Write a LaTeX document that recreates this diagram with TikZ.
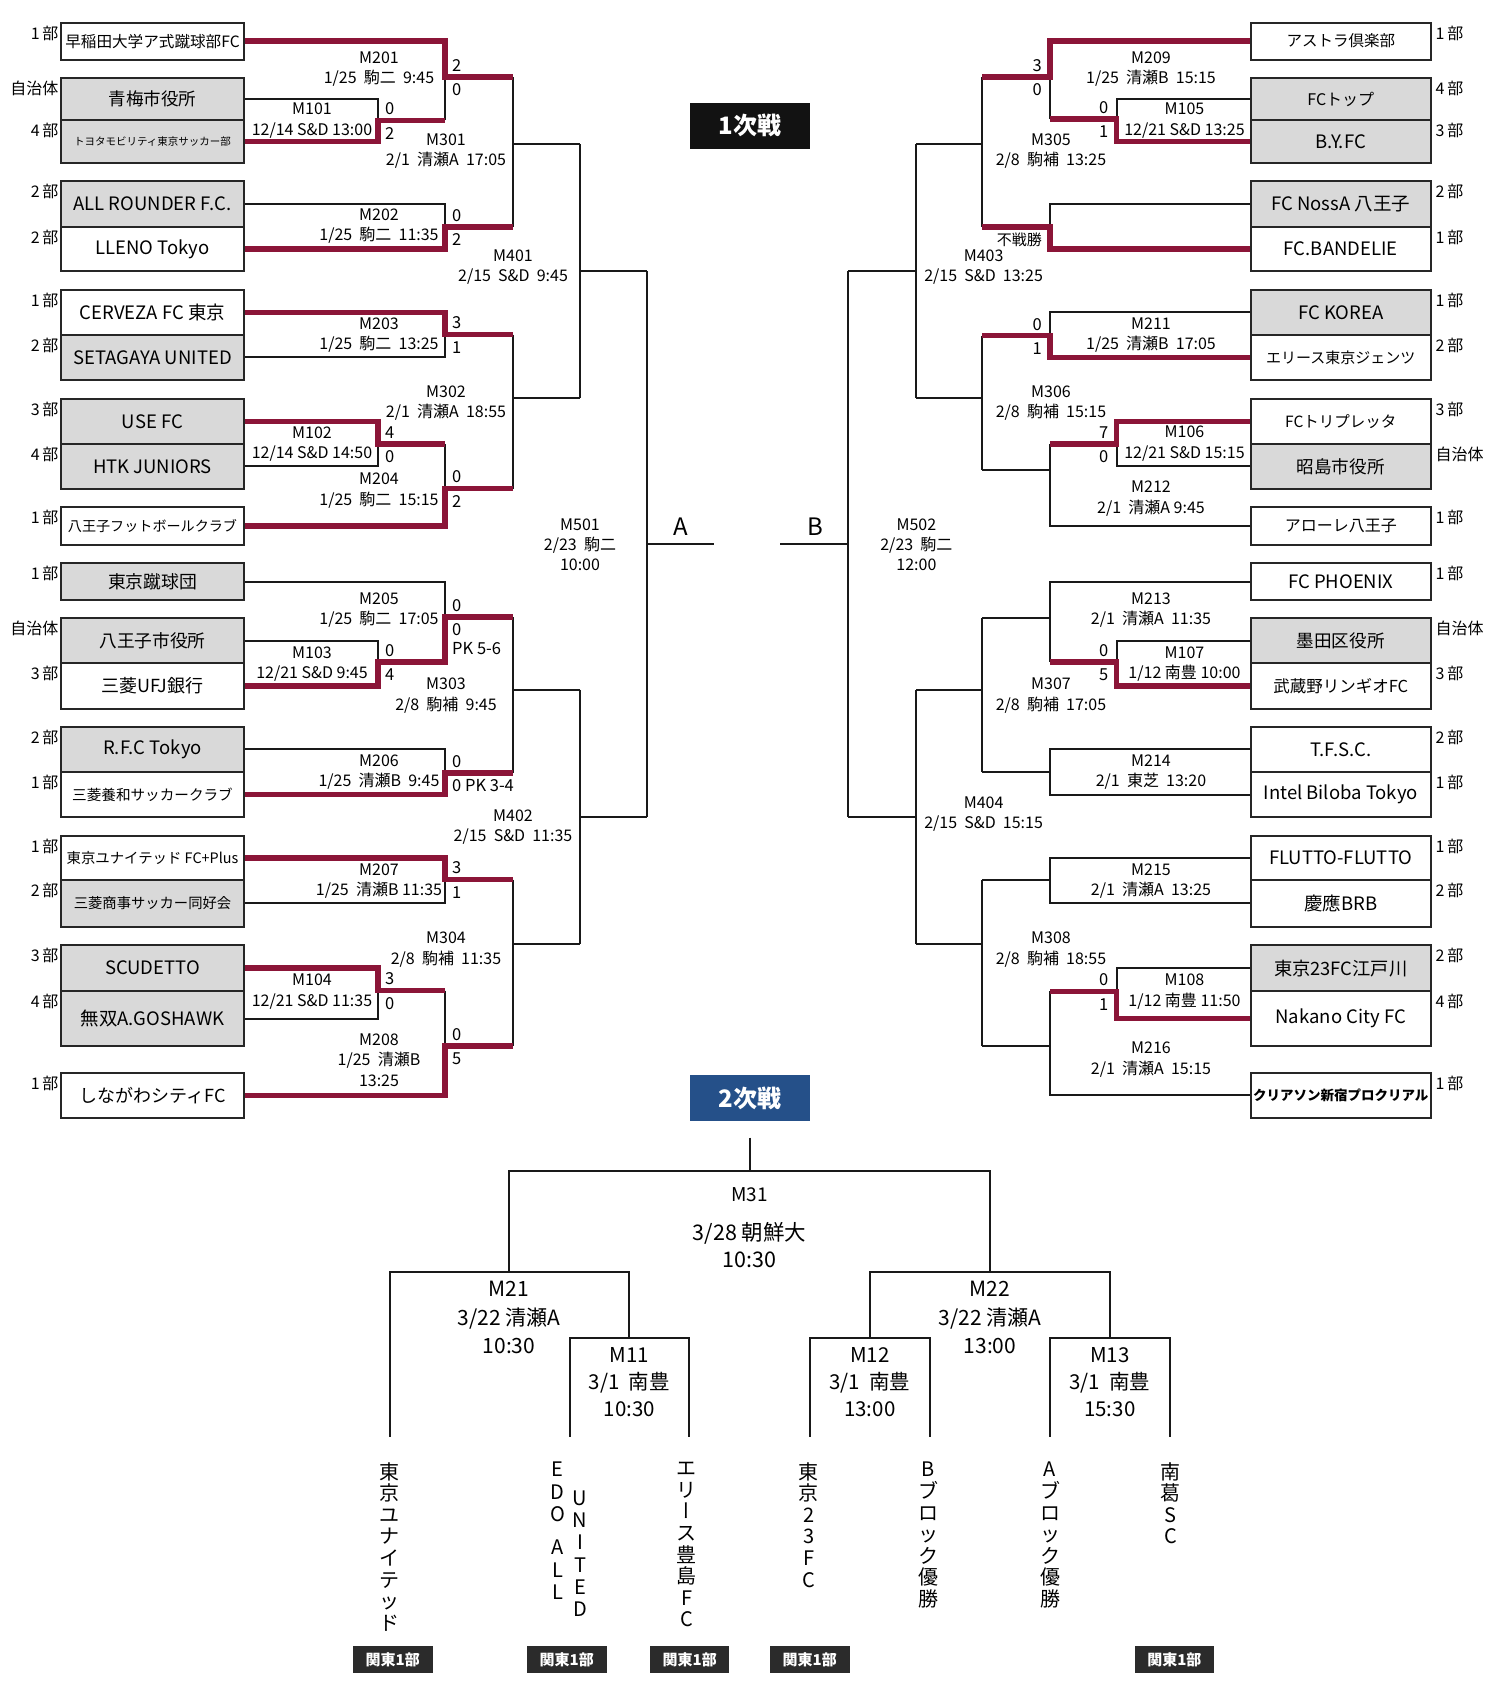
\documentclass[tikz,border=0pt]{standalone}
\usepackage{fontspec}
\setmainfont{Noto Sans CJK JP}
\newfontfamily\vjp[RawFeature=+vert]{Noto Sans CJK JP}

\definecolor{winred}{RGB}{139,21,56}
\definecolor{boxgray}{RGB}{217,217,217}
\definecolor{headblue}{RGB}{37,80,137}
\definecolor{tagblack}{RGB}{43,43,43}

\tikzset{
  brk/.style={draw=black!90, line width=2pt},
  win/.style={draw=winred, line width=5.5pt},
  team/.style={draw=black!85, line width=2pt, inner sep=0pt},
  lvl/.style={font=\fontsize{16}{16}\selectfont, inner sep=0pt},
  mlab/.style={font=\fontsize{16}{20.3}\selectfont, align=center, inner sep=0pt},
  sc/.style={font=\fontsize{16.5}{16.5}\selectfont, inner sep=0pt},
  head/.style={minimum width=120, minimum height=46, text=white, inner sep=0pt,
    font=\fontsize{24}{24}\selectfont\bfseries},
  tag/.style={fill=tagblack, text=white, minimum width=79.5, minimum height=27.3,
    inner sep=0pt, font=\fontsize{15}{15}\selectfont\bfseries},
  big/.style={font=\fontsize{21}{28.3}\selectfont, align=center, inner sep=0pt},
  tate/.style={font=\fontsize{20}{21.6}\selectfont, align=center, inner sep=0pt, anchor=north}
}

\begin{document}
\begin{tikzpicture}[x=1pt, y=-1pt]
  \useasboundingbox (0,0) rectangle (1500,1698);

  % teams, block A
  \foreach \row/\yc/\bh/\fs/\bg/\tn/\dv in {
    1/41.05/37.1/15.6/white/早稲田大学ア式蹴球部FC/1\,部,
    2/99.15/42.3/17.5/boxgray/青梅市役所/自治体,
    3/141.4/42.2/10.5/boxgray/トヨタモビリティ東京サッカー部/4\,部,
    4/204.1/45.4/18.5/boxgray/ALL ROUNDER F.C./2\,部,
    5/249.1/44.6/18.5/white/LLENO Tokyo/2\,部,
    6/312.3/44.6/18.5/white/CERVEZA FC 東京/1\,部,
    7/357.3/45.4/18.5/boxgray/SETAGAYA UNITED/2\,部,
    8/421.5/45/18.5/boxgray/USE FC/3\,部,
    9/466.3/44.6/18.5/boxgray/HTK JUNIORS/4\,部,
    10/525.8/37.6/14.1/white/八王子フットボールクラブ/1\,部,
    11/581.5/37/17.8/boxgray/東京蹴球団/1\,部,
    12/640.8/44.8/17.7/boxgray/八王子市役所/自治体,
    13/686.1/45.8/18/white/三菱UFJ銀行/3\,部,
    14/749.4/45.2/18.5/boxgray/R.F.C Tokyo/2\,部,
    15/794.7/45.4/14.6/white/三菱養和サッカークラブ/1\,部,
    16/858.15/44.3/14.4/white/東京ユナイテッド FC+Plus/1\,部,
    17/903.4/46.2/14.3/boxgray/三菱商事サッカー同好会/2\,部,
    18/968.15/46.3/18.5/boxgray/SCUDETTO/3\,部,
    19/1018.65/54.7/18.5/boxgray/無双A.GOSHAWK/4\,部,
    20/1095.25/45.1/18/white/しながわシティFC/1\,部}{
    \node[team, fill=\bg, minimum width=183, minimum height=\bh,
      font=\fontsize{\fs}{\fs}\selectfont] (L\row) at (152.5,\yc) {\tn};
    \node[lvl, anchor=east] (dl\row) at ([shift={(-1.5,11.5)}]L\row.north west) {\dv};
  }

  % teams, block B
  \foreach \row/\yc/\bh/\fs/\bg/\tn/\dv in {
    1/41.05/37.1/15.5/white/アストラ倶楽部/1\,部,
    2/99.15/42.3/16/boxgray/FCトップ/4\,部,
    3/141.4/42.2/18.5/boxgray/B.Y.FC/3\,部,
    4/204.1/45.4/18.5/boxgray/FC NossA 八王子/2\,部,
    5/249.1/44.6/18.5/white/FC.BANDELIE/1\,部,
    6/312.3/44.6/18.5/boxgray/FC KOREA/1\,部,
    7/357.3/45.4/15/white/エリース東京ジェンツ/2\,部,
    8/421.5/45/15.5/white/FCトリプレッタ/3\,部,
    9/466.3/44.6/17.6/boxgray/昭島市役所/自治体,
    10/525.8/37.6/16/white/アローレ八王子/1\,部,
    11/581.5/37/18.5/white/FC PHOENIX/1\,部,
    12/640.8/44.8/17.6/boxgray/墨田区役所/自治体,
    13/686.1/45.8/16.5/white/武蔵野リンギオFC/3\,部,
    14/749.4/45.2/18.5/white/T.F.S.C./2\,部,
    15/794.7/45.4/18.5/white/Intel Biloba Tokyo/1\,部,
    16/858.15/44.3/18.5/white/FLUTTO-FLUTTO/1\,部,
    17/903.4/46.2/18.5/white/慶應BRB/2\,部,
    18/968.15/46.3/18.3/boxgray/東京23FC江戸川/2\,部,
    19/1018.65/54.7/18.5/white/Nakano City FC/4\,部,
    20/1095.25/45.1/13.5/white/{\bfseries クリアソン新宿プロクリアル}/1\,部}{
    \node[team, fill=\bg, minimum width=179.5, minimum height=\bh,
      font=\fontsize{\fs}{\fs}\selectfont] (R\row) at (1340.75,\yc) {\tn};
    \node[lvl, anchor=west] (dr\row) at ([shift={(4,11.5)}]R\row.north east) {\dv};
  }

  % junctions
  \coordinate (m101) at (378,120.3);
  \coordinate (m102) at (378,444);
  \coordinate (m103) at (378,662);
  \coordinate (m104) at (378,990.5);
  \coordinate (m201) at (445,77);
  \coordinate (m202) at (445,227);
  \coordinate (m203) at (445,334.6);
  \coordinate (m204) at (445,488.6);
  \coordinate (m205) at (445,617);
  \coordinate (m206) at (445,773);
  \coordinate (m207) at (445,879.6);
  \coordinate (m208) at (445,1046);
  \coordinate (m301) at (513,144);
  \coordinate (m302) at (513,398.2);
  \coordinate (m303) at (513,689.8);
  \coordinate (m304) at (513,944.3);
  \coordinate (m401) at (580,271.2);
  \coordinate (m402) at (580,817.2);
  \coordinate (m501) at (647,543.8);
  \coordinate (aend) at (714.3,543.8);

  \coordinate (m105) at (1116.5,119);
  \coordinate (m106) at (1116.5,444);
  \coordinate (m107) at (1116.5,662);
  \coordinate (m108) at (1116.5,991.3);
  \coordinate (m209) at (1050,77);
  \coordinate (m210) at (1050,227);
  \coordinate (m211) at (1050,335.7);
  \coordinate (m212) at (1050,469.6);
  \coordinate (m213) at (1050,618.4);
  \coordinate (m214) at (1050,772.3);
  \coordinate (m215) at (1050,880.3);
  \coordinate (m216) at (1050,1046);
  \coordinate (m305) at (982,144);
  \coordinate (m306) at (982,398.2);
  \coordinate (m307) at (982,689.8);
  \coordinate (m308) at (982,944.3);
  \coordinate (m403) at (915.6,271.2);
  \coordinate (m404) at (915.6,816.7);
  \coordinate (m502) at (848.3,543.8);
  \coordinate (bend) at (780,543.8);

  % block A lines
  \draw[brk] (L2.east) -| (m101);
  \draw[brk] (m101 -| m201) -- (m201);
  \draw[brk] (L4.east) -| (m202);
  \draw[brk] (L7.east) -| (m203);
  \draw[brk] (L9.east) -| (m102);
  \draw[brk] (m102 -| m204) -- (m204);
  \draw[brk] (L12.east) -| (m103);
  \draw[brk] (L11.east) -| (m205);
  \draw[brk] (L14.east) -| (m206);
  \draw[brk] (L17.east) -| (m207);
  \draw[brk] (L19.east) -| (m104);
  \draw[brk] (m104 -| m208) -- (m208);
  \draw[brk] (m201 -| m301) -- (m202 -| m301) (m301) -- (m301 -| m401);
  \draw[brk] (m203 -| m302) -- (m204 -| m302) (m302) -- (m302 -| m401);
  \draw[brk] (m205 -| m303) -- (m206 -| m303) (m303) -- (m303 -| m402);
  \draw[brk] (m207 -| m304) -- (m208 -| m304) (m304) -- (m304 -| m402);
  \draw[brk] (m301 -| m401) -- (m302 -| m401) (m401) -- (m401 -| m501);
  \draw[brk] (m303 -| m402) -- (m304 -| m402) (m402) -- (m402 -| m501);
  \draw[brk] (m401 -| m501) -- (m402 -| m501) (m501) -- (aend);

  \draw[win] (L3.east) -| (m101) -- (m101 -| m201);
  \draw[win] (L1.east) -| (m201) -- (m201 -| m301);
  \draw[win] (L5.east) -| (m202) -- (m202 -| m301);
  \draw[win] (L6.east) -| (m203) -- (m203 -| m302);
  \draw[win] (L8.east) -| (m102) -- (m102 -| m204);
  \draw[win] (L10.east) -| (m204) -- (m204 -| m302);
  \draw[win] (L13.east) -| (m103) -- (m103 -| m205) -- (m205) -- (m205 -| m303);
  \draw[win] (L15.east) -| (m206) -- (m206 -| m303);
  \draw[win] (L16.east) -| (m207) -- (m207 -| m304);
  \draw[win] (L18.east) -| (m104) -- (m104 -| m208);
  \draw[win] (L20.east) -| (m208) -- (m208 -| m304);

  % block B lines
  \draw[brk] (R2.west) -| (m105);
  \draw[brk] (m105 -| m209) -- (m209);
  \draw[brk] (R4.west) -| (m210);
  \draw[brk] (R6.west) -| (m211);
  \draw[brk] (R9.west) -| (m106);
  \draw[brk] (R10.west) -| (m212) -- (m106 -| m212) (m212) -- (m212 -| m306);
  \draw[brk] (R12.west) -| (m107);
  \draw[brk] (R11.west) -| (m213) -- (m107 -| m213) (m213) -- (m213 -| m307);
  \draw[brk] (R14.west) -| (m214) (R15.west) -| (m214) (m214) -- (m214 -| m307);
  \draw[brk] (R16.west) -| (m215) (R17.west) -| (m215) (m215) -- (m215 -| m308);
  \draw[brk] (R18.west) -| (m108);
  \draw[brk] (R20.west) -| (m216) -- (m108 -| m216) (m216) -- (m216 -| m308);
  \draw[brk] (m209 -| m305) -- (m210 -| m305) (m305) -- (m305 -| m403);
  \draw[brk] (m211 -| m306) -- (m212 -| m306) (m306) -- (m306 -| m403);
  \draw[brk] (m213 -| m307) -- (m214 -| m307) (m307) -- (m307 -| m404);
  \draw[brk] (m215 -| m308) -- (m216 -| m308) (m308) -- (m308 -| m404);
  \draw[brk] (m305 -| m403) -- (m306 -| m403) (m403) -- (m403 -| m502);
  \draw[brk] (m307 -| m404) -- (m308 -| m404) (m404) -- (m404 -| m502);
  \draw[brk] (m403 -| m502) -- (m404 -| m502) (m502) -- (bend);

  \draw[win] (R3.west) -| (m105) -- (m105 -| m209);
  \draw[win] (R1.west) -| (m209) -- (m209 -| m305);
  \draw[win] (R5.west) -| (m210) -- (m210 -| m305);
  \draw[win] (R7.west) -| (m211) -- (m211 -| m306);
  \draw[win] (R8.west) -| (m106) -- (m106 -| m212);
  \draw[win] (R13.west) -| (m107) -- (m107 -| m213);
  \draw[win] (R19.west) -| (m108) -- (m108 -| m216);

  % scores
  \foreach \m/\sa/\sb in {m101/0/2, m102/4/0, m103/0/4, m104/3/0,
    m201/2/0, m202/0/2, m203/3/1, m204/0/2, m205/0/0, m206/0/0 PK 3-4,
    m207/3/1, m208/0/5}{
    \node[sc, anchor=west] (\m-a) at ([shift={(7,-11.5)}]\m) {\sa};
    \node[sc, anchor=west] (\m-b) at ([shift={(7,13)}]\m) {\sb};
  }
  \node[sc, anchor=west] (pk205) at ([shift={(7,32)}]m205) {PK 5-6};
  \foreach \m/\sa/\sb in {m105/0/1, m106/7/0, m107/0/5, m108/0/1,
    m209/3/0, m211/0/1}{
    \node[sc, anchor=east] (\m-a) at ([shift={(-8,-11.5)}]\m) {\sa};
    \node[sc, anchor=east] (\m-b) at ([shift={(-8,13)}]\m) {\sb};
  }
  \node[sc, font=\fontsize{15}{15}\selectfont, anchor=east] (fsh) at ([shift={(-8,13)}]m210) {不戦勝};

  % match labels, block A
  \node[mlab] (t201) at (379,69.2) {M201\\1/25~~駒二~~9:45};
  \node[mlab] (t101) at (312,120.5) {M101\\12/14 S\&D 13:00};
  \node[mlab] (t301) at (446,150.9) {M301\\2/1~~清瀬A~~17:05};
  \node[mlab] (t202) at (379,226.2) {M202\\1/25~~駒二~~11:35};
  \node[mlab] (t401) at (513,267.3) {M401\\2/15~~S\&D~~9:45};
  \node[mlab] (t203) at (379,335.2) {M203\\1/25~~駒二~~13:25};
  \node[mlab] (t302) at (446,403) {M302\\2/1~~清瀬A~~18:55};
  \node[mlab] (t102) at (312,444.1) {M102\\12/14 S\&D 14:50};
  \node[mlab] (t204) at (379,490.7) {M204\\1/25~~駒二~~15:15};
  \node[mlab] (t501) at (580,544.6) {M501\\2/23~~駒二\\10:00};
  \node[mlab] (t205) at (379,609.8) {M205\\1/25~~駒二~~17:05};
  \node[mlab] (t103) at (312,664.2) {M103\\12/21 S\&D 9:45};
  \node[mlab] (t303) at (446,695.6) {M303\\2/8~~駒補~~9:45};
  \node[mlab] (t206) at (379,772.2) {M206\\1/25~~清瀬B~~9:45};
  \node[mlab] (t402) at (513,826.9) {M402\\2/15~~S\&D~~11:35};
  \node[mlab] (t207) at (379,881.4) {M207\\1/25~~清瀬B 11:35};
  \node[mlab] (t304) at (446,949.7) {M304\\2/8~~駒補~~11:35};
  \node[mlab] (t104) at (312,991.5) {M104\\12/21 S\&D 11:35};
  \node[mlab] (t208) at (379,1060.1) {M208\\1/25~~清瀬B\\13:25};

  % match labels, block B
  \node[mlab] (t209) at (1151,69.2) {M209\\1/25~~清瀬B~~15:15};
  \node[mlab] (t105) at (1184.5,120.5) {M105\\12/21 S\&D 13:25};
  \node[mlab] (t305) at (1051,150.9) {M305\\2/8~~駒補~~13:25};
  \node[mlab] (t403) at (983.6,267.3) {M403\\2/15~~S\&D~~13:25};
  \node[mlab] (t211) at (1151,335.2) {M211\\1/25~~清瀬B~~17:05};
  \node[mlab] (t306) at (1051,403) {M306\\2/8~~駒補~~15:15};
  \node[mlab] (t106) at (1184.5,443.6) {M106\\12/21 S\&D 15:15};
  \node[mlab] (t212) at (1151,498.5) {M212\\2/1~~清瀬A 9:45};
  \node[mlab] (t502) at (916.4,544.6) {M502\\2/23~~駒二\\12:00};
  \node[mlab] (t213) at (1151,609.8) {M213\\2/1~~清瀬A~~11:35};
  \node[mlab] (t107) at (1184.5,664) {M107\\1/12 南豊 10:00};
  \node[mlab] (t307) at (1051,695.6) {M307\\2/8~~駒補~~17:05};
  \node[mlab] (t214) at (1151,772.2) {M214\\2/1~~東芝~~13:20};
  \node[mlab] (t404) at (983.6,813.9) {M404\\2/15~~S\&D~~15:15};
  \node[mlab] (t215) at (1151,881.2) {M215\\2/1~~清瀬A~~13:25};
  \node[mlab] (t308) at (1051,949.7) {M308\\2/8~~駒補~~18:55};
  \node[mlab] (t108) at (1184.5,991.5) {M108\\1/12 南豊 11:50};
  \node[mlab] (t216) at (1151,1059.7) {M216\\2/1~~清瀬A~~15:15};

  \node[head, fill=black!93] (h1) at (750,125.8) {1次戦};
  \node[font=\fontsize{24}{24}\selectfont, inner sep=0pt] (la) at (681,527) {A};
  \node[font=\fontsize{24}{24}\selectfont, inner sep=0pt] (lb) at (815,527) {B};

  % second stage
  \node[head, fill=headblue] (h2) at (749.8,1097.9) {2次戦};
  \coordinate (c0) at (749.5,1137.7);
  \coordinate (c31) at (749.5,1171);
  \coordinate (c21) at (509,1271.7);
  \coordinate (c22) at (990,1271.7);
  \coordinate (c11) at (629.4,1337.7);
  \coordinate (c12) at (869.8,1337.7);
  \coordinate (c13) at (1109.8,1337.7);
  \coordinate (b1) at (389.5,1436.7);
  \coordinate (b2) at (569.5,1436.7);
  \coordinate (b3) at (689.3,1436.7);
  \coordinate (b4) at (809.7,1436.7);
  \coordinate (b5) at (930,1436.7);
  \coordinate (b6) at (1050,1436.7);
  \coordinate (b7) at (1169.5,1436.7);
  \draw[brk] (c0) -- (c31);
  \draw[brk] (c21) -- (c21 |- c31) -- (c22 |- c31) -- (c22);
  \draw[brk] (b1) -- (b1 |- c21) -- (c11 |- c21) -- (c11);
  \draw[brk] (c12) -- (c12 |- c22) -- (c13 |- c22) -- (c13);
  \draw[brk] (b2) -- (b2 |- c11) -- (b3 |- c11) -- (b3);
  \draw[brk] (b4) -- (b4 |- c12) -- (b5 |- c12) -- (b5);
  \draw[brk] (b6) -- (b6 |- c13) -- (b7 |- c13) -- (b7);

  \node[font=\fontsize{19}{19}\selectfont, inner sep=0pt] (t31) at (749.5,1195) {M31};
  \node[big, font=\fontsize{21.5}{27.3}\selectfont] (d31) at (749.5,1245.4) {3/28 朝鮮大\\10:30};
  \node[big] (t21) at (509,1317.6) {M21\\3/22 清瀬A\\10:30};
  \node[big] (t22) at (990,1317.6) {M22\\3/22 清瀬A\\13:00};
  \node[big, font=\fontsize{20.5}{27}\selectfont] (t11) at (629.4,1382) {M11\\3/1~~南豊\\10:30};
  \node[big, font=\fontsize{20.5}{27}\selectfont] (t12) at (869.8,1382) {M12\\3/1~~南豊\\13:00};
  \node[big, font=\fontsize{20.5}{27}\selectfont] (t13) at (1109.8,1382) {M13\\3/1~~南豊\\15:30};

  \node[tate] (v1) at (389.4,1462) {東\\京\\ユ\\ナ\\イ\\テ\\ッ\\ド};
  \node[tate, font=\fontsize{20}{22.3}\selectfont] (v2a) at (557.7,1462) {E\\D\\O\\[11pt]A\\L\\L};
  \node[tate, font=\fontsize{20}{22.3}\selectfont] (v2b) at (580.2,1490.5) {U\\N\\I\\T\\E\\D};
  \node[tate] (v3) at (686.8,1462) {エ\\リ\\{\vjp ー}\\ス\\豊\\島\\F\\C};
  \node[tate] (v4) at (808.6,1462) {東\\京\\2\\3\\F\\C};
  \node[tate] (v5) at (928.1,1462) {B\\ブ\\ロ\\ッ\\ク\\優\\勝};
  \node[tate] (v6) at (1050,1462) {A\\ブ\\ロ\\ッ\\ク\\優\\勝};
  \node[tate] (v7) at (1170.6,1462) {南\\葛\\S\\C};

  \foreach \tx/\tg in {392.8/k1, 566.8/k2, 689.7/k3, 809.8/k4, 1174.4/k5}
    \node[tag] (\tg) at (\tx,1659.7) {関東1部};
\end{tikzpicture}
\end{document}
